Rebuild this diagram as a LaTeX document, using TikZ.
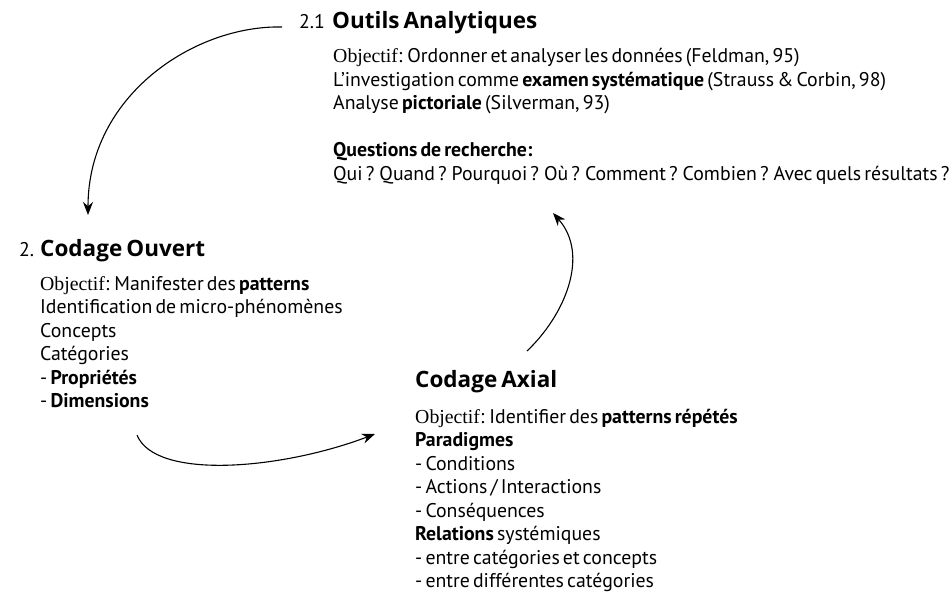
\documentclass[tikz,border=0pt]{standalone}
\usepackage{fontspec}
\setmainfont{PT Sans}[WordSpace=0.6]
\newfontfamily\serifobj{Liberation Serif}
\newfontfamily\titrefont{Open Sans}[WordSpace=0.7]
\usetikzlibrary{arrows.meta,positioning}

\begin{document}
\begin{tikzpicture}[x=1pt,y=-1pt,
   numero/.style={anchor=base west,inner sep=0pt,font=\fontsize{19.8}{23.5}\selectfont},
   titre/.style={anchor=base west,inner sep=0pt,font=\titrefont\fontsize{22.5}{26}\selectfont\bfseries},
   corps/.style={anchor=base west,inner sep=0pt,align=left,font=\fontsize{19.8}{23.5}\selectfont},
   fleche/.style={-{Stealth[length=13pt,width=10pt]},line width=1.1pt}]
   \useasboundingbox (0,0) rectangle (952,593);

   % 2.1 Outils Analytiques (corps: base = derniere ligne)
   \node[numero] (OAn) at (299,29) {2.1};
   \node[titre] (OA) at (332,29) {Outils Analytiques};
   \node[corps] (OAc) at (333,180.5) {{\serifobj Objectif}: Ordonner et analyser les données (Feldman, 95)\\
      L’investigation comme \textbf{examen systématique} (Strauss \& Corbin, 98)\\
      Analyse \textbf{pictoriale} (Silverman, 93)\\[23.5pt]
      \textbf{Questions de recherche:}\\
      Qui ? Quand ? Pourquoi ? Où ? Comment ? Combien ? Avec quels résultats ?};

   % 2. Codage Ouvert
   \node[numero] (COn) at (19,257) {2.};
   \node[titre] (CO) at (40,257) {Codage Ouvert};
   \node[corps] (COc) at (40,407.5) {{\serifobj Objectif}: Manifester des \textbf{patterns}\\
      Identification de micro-phénomènes\\
      Concepts\\
      Catégories\\
      - \textbf{Propriétés}\\
      - \textbf{Dimensions}};

   % Codage Axial
   \node[titre] (CA) at (415,387) {Codage Axial};
   \node[corps] (CAc) at (415,587.5) {{\serifobj Objectif}: Identifier des \textbf{patterns répétés}\\
      \textbf{Paradigmes}\\
      - Conditions\\
      - Actions / Interactions\\
      - Conséquences\\
      \textbf{Relations} systémiques\\
      - entre catégories et concepts\\
      - entre différentes catégories};

   \coordinate (d1) at (282,27);
   \coordinate (f1) at (88,215);
   \coordinate (d2) at (137,435);
   \coordinate (f2) at (375,434);
   \coordinate (d3) at (527,351);
   \coordinate (f3) at (553,213);
   \draw[fleche] (d1) .. controls (195,25) and (88,95) .. (f1);
   \draw[fleche] (d2) .. controls (155,480) and (280,470) .. (f2);
   \draw[fleche] (d3) .. controls (565,315) and (590,255) .. (f3);
\end{tikzpicture}
\end{document}
